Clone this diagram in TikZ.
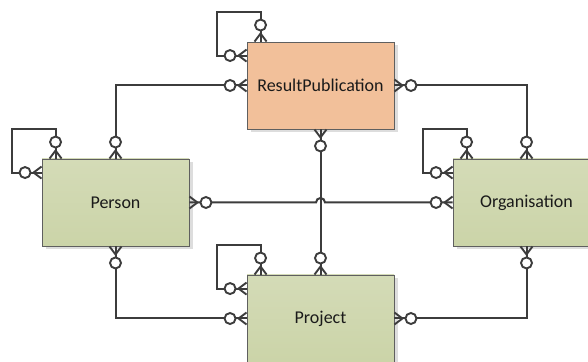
\documentclass[tikz,border=0pt]{standalone}
\usepackage{fontspec}
\setmainfont{Carlito}
\usetikzlibrary{calc,shadows}
\definecolor{linec}{HTML}{3C3C3C}
\definecolor{boxline}{HTML}{5F5F5F}
\definecolor{peach}{HTML}{F2C09A}
\definecolor{greentop}{HTML}{D4DBB7}
\definecolor{greenmid}{HTML}{D2D9B3}
\definecolor{greenbot}{HTML}{CBD4A8}
\definecolor{shadowc}{HTML}{DDDDDD}
\definecolor{textc}{HTML}{1A1A1A}
\pgfdeclarearrow{
  name = ZM,
  setup code = {
    \pgfarrowssettipend{0pt}
    \pgfarrowssetlineend{0pt}
    \pgfarrowssetvisualtipend{0pt}
    \pgfarrowssetbackend{-23pt}
    \pgfarrowssetvisualbackend{-23pt}
    \pgfarrowshullpoint{0pt}{6pt}
    \pgfarrowshullpoint{0pt}{-6pt}
    \pgfarrowshullpoint{-23pt}{6pt}
    \pgfarrowshullpoint{-23pt}{-6pt}
  },
  drawing code = {
    \pgfsetlinewidth{1.9pt}
    \pgfsetdash{}{0pt}
    \pgfsetmiterjoin
    \pgfpathmoveto{\pgfqpoint{0pt}{6pt}}
    \pgfpathlineto{\pgfqpoint{-8pt}{0pt}}
    \pgfpathlineto{\pgfqpoint{0pt}{-6pt}}
    \pgfusepathqstroke
    \pgfpathcircle{\pgfqpoint{-16.5pt}{0pt}}{5.5pt}
    \pgfsetfillcolor{white}
    \pgfusepathqfillstroke
  }
}
\tikzset{
  entity/.style={draw=boxline, line width=0.9pt, minimum width=147pt, minimum height=87pt,
    inner sep=0pt, text=textc, font=\fontsize{18}{20}\selectfont,
    drop shadow={shadow xshift=3.5pt, shadow yshift=-3.5pt, fill=shadowc, opacity=1}},
  peachbox/.style={entity, fill=peach},
  greenbox/.style={entity, top color=greentop, middle color=greenmid, bottom color=greenbot},
  rel/.style={draw=linec, line width=2pt, {ZM}-{ZM}},
}
\begin{document}
\begin{tikzpicture}[x=1pt,y=1pt]
\useasboundingbox (0,0) rectangle (588,361);
\clip (0,0) rectangle (588,361);
\fill[white] (0,0) rectangle (588,361);
\node[peachbox] (rp) at (320.5,275.5) {ResultPublication};
\node[greenbox] (person) at (115.5,158.5) {Person};
\node[greenbox] (org) at (526.5,158.5) {Organisation};
\node[greenbox] (proj) at (320.5,42.5) {Project};
% self loops
\foreach \n in {rp,person,org,proj}{
  \draw[rel] ([xshift=14pt]\n.north west) -- ++(0,30)
     -| ([xshift=-30pt,yshift=-14pt]\n.north west) -- ([yshift=-14pt]\n.north west);
}
% relations
\draw[rel] (person.north) |- (rp.west);
\draw[rel] (rp.east) -| (org.north);
\draw[rel] (rp.south) -- (proj.north);
\coordinate (hop) at (rp.south |- person.east);
\draw[rel] (person.east) -- ($(hop)+(-4.5,0)$) arc[start angle=180,end angle=0,radius=4.5pt] -- (org.west);
\draw[rel] (person.south) |- (proj.west);
\draw[rel] (proj.east) -| (org.south);
\end{tikzpicture}
\end{document}
